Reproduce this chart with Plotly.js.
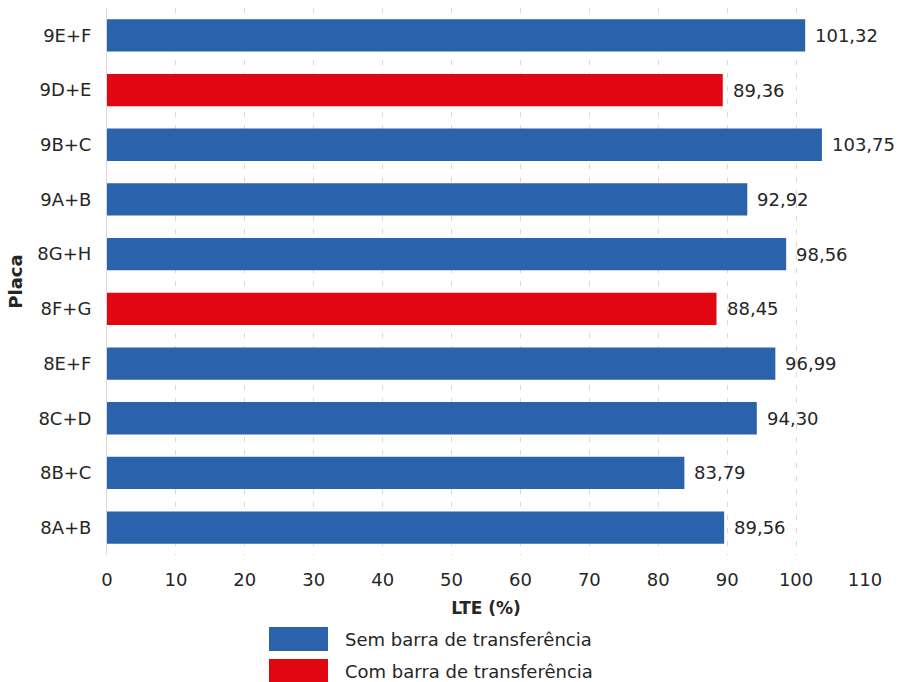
<!DOCTYPE html>
<html>
<head>
<meta charset="utf-8">
<script src="https://cdn.plot.ly/plotly-3.0.1.min.js"></script>
<style>
  html, body { margin: 0; padding: 0; background: #ffffff; }
  #chart { width: 899px; height: 682px; }
</style>
</head>
<body>
<div id="chart"></div>
<script>
// Load transfer efficiency (LTE, %) per slab joint, top to bottom
const placas = ['9E+F', '9D+E', '9B+C', '9A+B', '8G+H', '8F+G', '8E+F', '8C+D', '8B+C', '8A+B'];
const lte = [101.32, 89.36, 103.75, 92.92, 98.56, 88.45, 96.99, 94.30, 83.79, 89.56];
const comBarra = [false, true, false, false, false, true, false, false, false, false];

const seriesNames = ['Sem barra de transferência', 'Com barra de transferência'];
const seriesColors = ['#2B62AC', '#E20613'];
const xTicks = [0, 10, 20, 30, 40, 50, 60, 70, 80, 90, 100, 110];

const FONT = 'DejaVu Sans, Verdana, sans-serif';
const TEXT = '#262626';

const W = 899, H = 682;
const margin = { l: 107, r: 34, t: 8, b: 127 };
const plotW = W - margin.l - margin.r;
const plotH = H - margin.t - margin.b;
const px2paperX = px => (px - margin.l) / plotW;
const px2paperY = py => 1 - (py - margin.t) / plotH;

// one trace per group; the other group's slots stay empty
const traces = seriesNames.map((name, s) => ({
  type: 'bar',
  orientation: 'h',
  name: name,
  y: placas,
  x: lte.map((v, i) => (comBarra[i] === (s === 1) ? v : null)),
  marker: { color: seriesColors[s] },
  hoverinfo: 'y+x',
  showlegend: false
}));

const fmt = v => v.toFixed(2).replace('.', ',');

// value labels just right of each bar
const valueLabels = lte.map((v, i) => ({
  x: v, y: placas[i], xref: 'x', yref: 'y',
  text: fmt(v), showarrow: false,
  xanchor: 'left', yanchor: 'middle', xshift: 8,
  font: { family: FONT, size: 18, color: TEXT }
}));

// legend block below the axis
const legendTop = [627, 659];
const legendShapes = seriesColors.map((c, s) => ({
  type: 'rect', xref: 'paper', yref: 'paper',
  x0: px2paperX(269), x1: px2paperX(328),
  y0: px2paperY(legendTop[s]), y1: px2paperY(legendTop[s] + 24),
  fillcolor: c, line: { width: 0 }
}));
const legendLabels = seriesNames.map((n, s) => ({
  xref: 'paper', yref: 'paper',
  x: px2paperX(343), y: px2paperY(legendTop[s] + 12),
  text: n, showarrow: false, xanchor: 'left', yanchor: 'middle',
  font: { family: FONT, size: 18, color: TEXT }
}));

const layout = {
  width: W, height: H,
  margin: margin,
  paper_bgcolor: '#ffffff',
  plot_bgcolor: '#ffffff',
  barmode: 'overlay',
  bargap: 0.41,
  showlegend: false,
  font: { family: FONT, size: 18, color: TEXT },
  xaxis: {
    range: [0, 110],
    tickvals: xTicks,
    ticktext: xTicks.map(String),
    showgrid: true,
    gridcolor: '#d9d9d9',
    griddash: '5px,8px',
    gridwidth: 1,
    zeroline: false,
    showline: false,
    ticks: '',
    ticklabelstandoff: 12,
    tickfont: { family: FONT, size: 18, color: TEXT },
    title: { text: '<b>LTE (%)</b>', standoff: 13, font: { family: FONT, size: 17, color: TEXT } },
    fixedrange: true
  },
  yaxis: {
    type: 'category',
    autorange: 'reversed',
    showgrid: false,
    zeroline: false,
    showline: true,
    linecolor: '#d9d9d9',
    linewidth: 1,
    ticks: '',
    ticklabelstandoff: 11,
    tickfont: { family: FONT, size: 18, color: TEXT },
    title: { text: '<b>Placa</b>', standoff: 10, font: { family: FONT, size: 18, color: TEXT } },
    fixedrange: true
  },
  shapes: legendShapes,
  annotations: valueLabels.concat(legendLabels)
};

Plotly.newPlot('chart', traces, layout, { displayModeBar: false, staticPlot: true });
</script>
</body>
</html>
